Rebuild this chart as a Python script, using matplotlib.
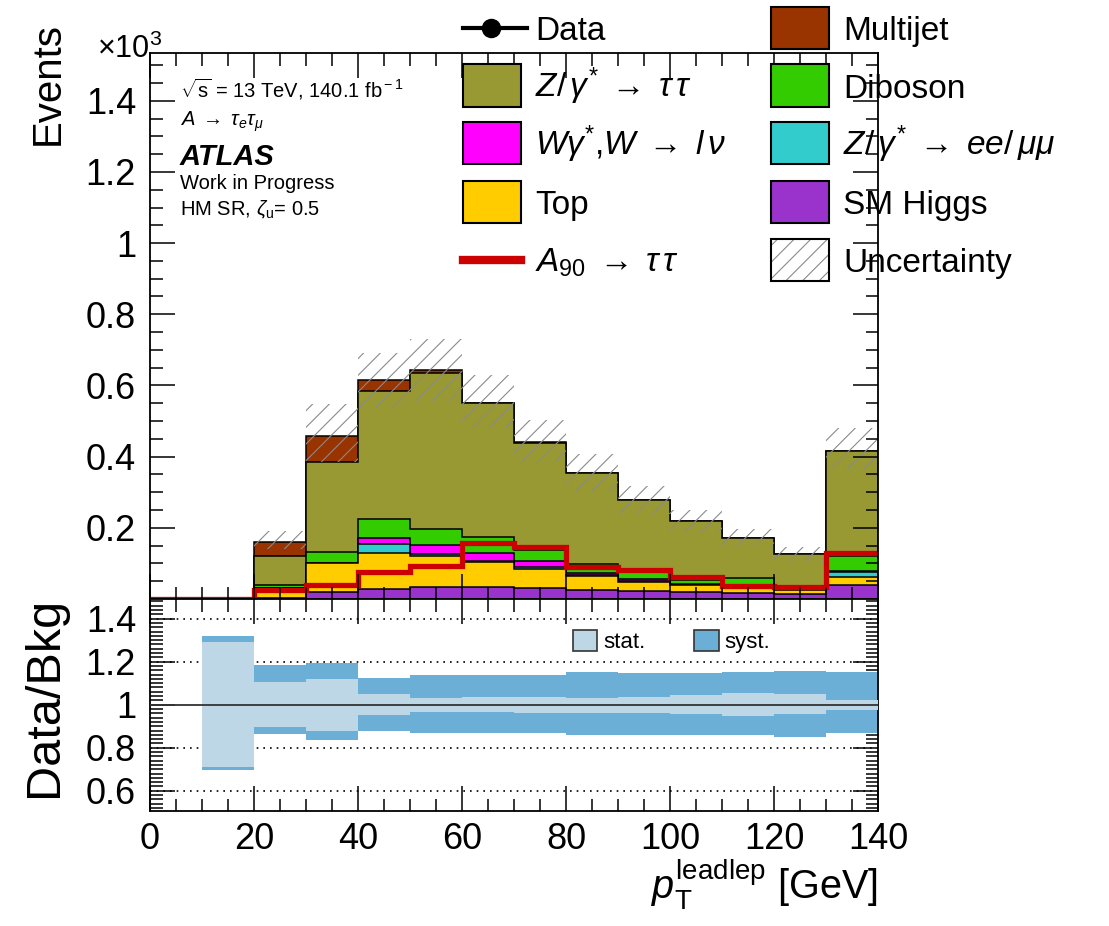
import numpy as np
import matplotlib
matplotlib.use("Agg")
import matplotlib.pyplot as plt
from matplotlib.patches import Patch, Rectangle
from matplotlib.lines import Line2D
from matplotlib.ticker import MultipleLocator, FixedLocator, FuncFormatter

plt.rcParams['font.family'] = ['Liberation Sans', 'DejaVu Sans']
plt.rcParams['mathtext.fontset'] = 'custom'
plt.rcParams['mathtext.rm'] = 'Liberation Sans'
plt.rcParams['mathtext.it'] = 'Liberation Sans:italic'
plt.rcParams['mathtext.bf'] = 'Liberation Sans:bold'
plt.rcParams['hatch.linewidth'] = 0.8

# binning of the leading lepton pT [GeV]
edges = np.arange(0, 150, 10)

# stacked backgrounds, events x 10^3, bottom to top
higgs    = [0, 0, 0.003, 0.019, 0.028, 0.035, 0.035, 0.032, 0.026, 0.022, 0.019, 0.018, 0.013, 0.039]
top      = [0, 0, 0.027, 0.081, 0.100, 0.087, 0.069, 0.053, 0.039, 0.027, 0.019, 0.014, 0.011, 0.024]
zll      = [0, 0, 0.000, 0.001, 0.026, 0.004, 0.004, 0.006, 0.002, 0.002, 0.002, 0.002, 0.001, 0.012]
wjets    = [0, 0, 0.002, 0.001, 0.018, 0.026, 0.022, 0.016, 0.005, 0.004, 0.003, 0.004, 0.002, 0.005]
diboson  = [0, 0, 0.007, 0.029, 0.052, 0.044, 0.043, 0.031, 0.027, 0.022, 0.009, 0.020, 0.003, 0.041]
ztautau  = [0, 0, 0.083, 0.255, 0.360, 0.440, 0.377, 0.299, 0.254, 0.201, 0.167, 0.114, 0.096, 0.296]
multijet = [0, 0, 0.039, 0.073, 0.031, 0.007, 0.002, 0.005, 0.001, 0, 0, 0, 0, 0]

# signal A(90) -> tautau
signal = [0, 0, 0.025, 0.039, 0.077, 0.093, 0.158, 0.147, 0.089, 0.082, 0.063, 0.036, 0.035, 0.128]

# relative uncertainty bands (ratio panel)
stat_up = [1, 1.293, 1.107, 1.121, 1.048, 1.033, 1.034, 1.037, 1.033, 1.034, 1.045, 1.053, 1.048, 1.022]
stat_dn = [1, 0.712, 0.895, 0.879, 0.952, 0.967, 0.965, 0.962, 0.963, 0.963, 0.957, 0.947, 0.957, 0.975]
syst_up = [1, 1.321, 1.185, 1.193, 1.126, 1.137, 1.138, 1.138, 1.151, 1.146, 1.146, 1.151, 1.157, 1.153]
syst_dn = [1, 0.696, 0.864, 0.836, 0.878, 0.867, 0.870, 0.870, 0.859, 0.859, 0.859, 0.859, 0.848, 0.867]

c_higgs, c_top, c_zll, c_w = '#9933cc', '#ffcc00', '#33cccc', '#ff00ff'
c_vv, c_ztt, c_mj, c_sig = '#33cc00', '#999933', '#993300', '#cc0000'
c_hatch = '#8a8a8a'

lab_ztt = r'$Z/\,\gamma^{*}\;\rightarrow\;\tau\,\tau$'
lab_w = r'$W\gamma^{*}$,$W\;\rightarrow\;l\,\nu$'
lab_zll = r'$Z/\,\gamma^{*}\;\rightarrow\;ee/\,\mu\mu$'
lab_sig = r'$A_{90}\;\rightarrow\;\tau\,\tau$'

samples = [
    (higgs, c_higgs),
    (top, c_top),
    (zll, c_zll),
    (wjets, c_w),
    (diboson, c_vv),
    (ztautau, c_ztt),
    (multijet, c_mj),
]

W, H = 1109, 926
fig = plt.figure(figsize=(W / 100, H / 100), dpi=100)


def fx(x):
    return x / W


def fy(y):
    return 1 - y / H


ax = fig.add_axes([fx(150), fy(599), fx(878) - fx(150), fy(52.7) - fy(599)])
rax = fig.add_axes([fx(150), fy(811), fx(878) - fx(150), fy(599) - fy(811)])

# stack: draw cumulative sums from the top down, like THStack
cum = np.cumsum([np.array(s[0]) for s in samples], axis=0)
for i in reversed(range(len(samples))):
    ax.stairs(cum[i], edges, baseline=0, fill=True, facecolor=samples[i][1],
              edgecolor='black', linewidth=1.1)

total = cum[-1]
ax.stairs(total * np.array(syst_up), edges, baseline=total * np.array(syst_dn),
          fill=True, facecolor='none', edgecolor=c_hatch, hatch='//', linewidth=0)

ax.stairs(signal, edges, baseline=None, color=c_sig, linewidth=3.8)

ax.set_xlim(0, 140)
ax.set_ylim(0, 1.535)
ax.xaxis.set_major_locator(MultipleLocator(20))
ax.xaxis.set_minor_locator(MultipleLocator(5))
ax.yaxis.set_major_locator(FixedLocator([0.2, 0.4, 0.6, 0.8, 1.0, 1.2, 1.4]))
ax.yaxis.set_minor_locator(MultipleLocator(0.05))
fmt = FuncFormatter(lambda v, p: f'{v:g}')
ax.yaxis.set_major_formatter(fmt)
ax.tick_params(labelbottom=False)

for a in (ax, rax):
    a.tick_params(which='both', direction='in', top=True, right=True, width=1.1)
    a.tick_params(which='major', length=18, labelsize=26)
    a.tick_params(which='minor', length=9)
    a.tick_params(axis='y', pad=10)
    for sp in a.spines.values():
        sp.set_linewidth(1.3)

fig.text(fx(67), fy(22), 'Events', rotation=90, ha='right', va='top', fontsize=29)
fig.text(fx(162), fy(58), r'$\times10^{3}$', ha='right', va='baseline', fontsize=22)

# labels inside the plot
fig.text(fx(180), fy(97), r'$\sqrt{\rm s}$ = 13 TeV, 140.1 fb$^{\rm -1}$', fontsize=14.5, va='baseline')
fig.text(fx(180), fy(126), r'$A\;\rightarrow\;\tau_{e}\tau_{\mu}$', fontsize=14.5, va='baseline')
fig.text(fx(180), fy(165), 'ATLAS', fontsize=21, fontweight='bold', fontstyle='italic', va='baseline')
fig.text(fx(180), fy(189), 'Work in Progress', fontsize=14.5, va='baseline')
fig.text(fx(180), fy(215), r'HM SR, $\zeta_{\rm u}$= 0.5', fontsize=14.5, va='baseline')

# legend, two columns of five rows
rows = [28, 85.5, 143, 202, 260]
cols = [(463, 535), (771, 843)]


def box(col, row, color, hatch=None):
    x0, _ = cols[col]
    yc = rows[row]
    if hatch:
        fig.add_artist(Rectangle((fx(x0), fy(yc + 21)), fx(58), 42 / H, transform=fig.transFigure,
                                 facecolor='white', edgecolor=c_hatch, hatch=hatch, linewidth=0))
        color = 'none'
    fig.add_artist(Rectangle((fx(x0), fy(yc + 21)), fx(58), 42 / H, transform=fig.transFigure,
                             facecolor=color, edgecolor='black', linewidth=1.5))


def label(col, row, text):
    fig.text(fx(cols[col][1]), fy(rows[row] + 12), text, fontsize=24, va='baseline')


fig.add_artist(Line2D([fx(463), fx(527)], [fy(rows[0])] * 2, transform=fig.transFigure,
                      color='black', linewidth=3))
fig.add_artist(Line2D([fx(491)], [fy(rows[0])], transform=fig.transFigure,
                      color='black', marker='o', markersize=13))
fig.add_artist(Line2D([fx(463), fx(521)], [fy(rows[4])] * 2, transform=fig.transFigure,
                      color=c_sig, linewidth=6))
box(0, 1, c_ztt)
box(0, 2, c_w)
box(0, 3, c_top)
box(1, 0, c_mj)
box(1, 1, c_vv)
box(1, 2, c_zll)
box(1, 3, c_higgs)
box(1, 4, None, hatch='//')
for (col, row), text in zip([(0, 0), (0, 1), (0, 2), (0, 3), (0, 4),
                             (1, 0), (1, 1), (1, 2), (1, 3), (1, 4)],
                            ['Data', lab_ztt, lab_w, 'Top', lab_sig,
                             'Multijet', 'Diboson', lab_zll, 'SM Higgs', 'Uncertainty']):
    label(col, row, text)

# ratio panel
stat_c, syst_c = '#bdd7e7', '#6baed6'
for v in (0.6, 0.8, 1.2, 1.4):
    rax.axhline(v, color='black', linestyle=(0, (1, 3)), linewidth=1.2, zorder=1)
rax.stairs(syst_up, edges, baseline=syst_dn, fill=True, color=syst_c, zorder=2)
rax.stairs(stat_up, edges, baseline=stat_dn, fill=True, color=stat_c, zorder=3)
rax.axhline(1.0, color='#333333', linewidth=1.3, zorder=4)

rax.set_xlim(0, 140)
rax.set_ylim(0.5056, 1.4916)
rax.xaxis.set_major_locator(MultipleLocator(20))
rax.xaxis.set_minor_locator(MultipleLocator(5))
rax.yaxis.set_major_locator(FixedLocator([0.6, 0.8, 1.0, 1.2, 1.4]))
rax.yaxis.set_minor_locator(MultipleLocator(0.02))
rax.yaxis.set_major_formatter(fmt)
rax.tick_params(axis='x', pad=8)

rax.legend([Patch(facecolor=stat_c, edgecolor='#333333', linewidth=1.2),
            Patch(facecolor=syst_c, edgecolor='#333333', linewidth=1.2)],
           ['stat.', 'syst.'], ncol=2, loc='upper left', frameon=False,
           bbox_to_anchor=(fx(573), fy(630)), bbox_transform=fig.transFigure,
           fontsize=16, borderpad=0, borderaxespad=0, handlelength=1.1, handleheight=1.1,
           handletextpad=0.25, columnspacing=2.2)

fig.text(fx(67), fy(597), 'Data/Bkg', rotation=90, ha='right', va='top', fontsize=35)
fig.text(fx(878), fy(899), r'$p_{\rm T}^{\rm leadlep}$ [GeV]', ha='right', va='baseline', fontsize=28.5)

fig.savefig('out.png', dpi=100)
